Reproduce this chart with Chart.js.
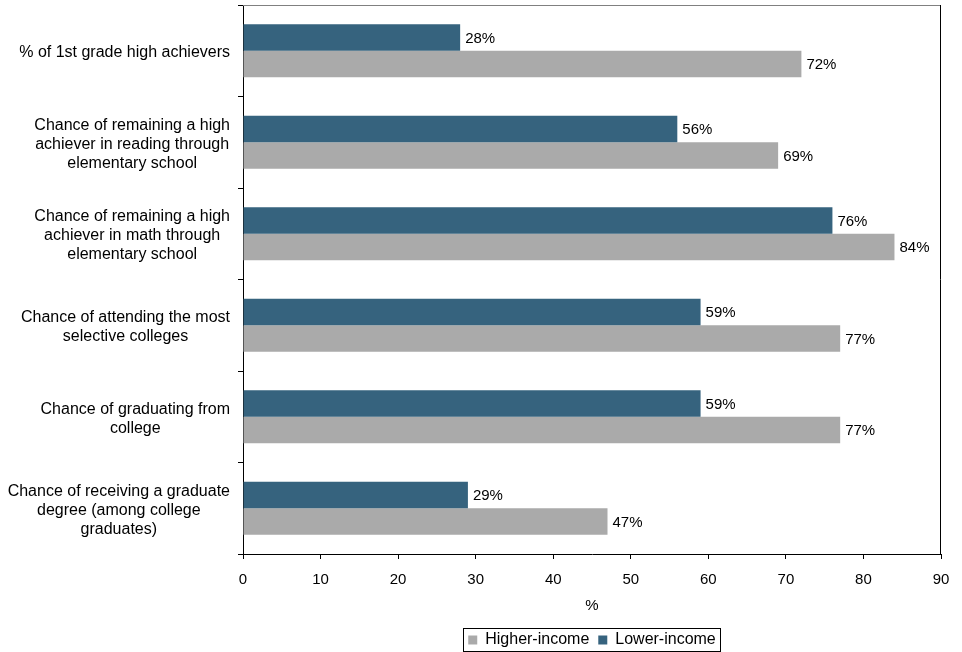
<!DOCTYPE html>
<html>
<head>
<meta charset="utf-8">
<script src="https://cdn.jsdelivr.net/npm/chart.js@4.4.0/dist/chart.umd.min.js"></script>
<style>
  html, body { margin: 0; padding: 0; background: #fff; }
  #wrap { width: 962px; height: 652px; }
</style>
</head>
<body>
<div id="wrap"><canvas id="achievers" width="962" height="652"></canvas></div>
<script>
const categories = [
  ['% of 1st grade high achievers'],
  ['Chance of remaining a high', 'achiever in reading through', 'elementary school'],
  ['Chance of remaining a high', 'achiever in math through', 'elementary school'],
  ['Chance of attending the most', 'selective colleges'],
  ['Chance of graduating from', 'college'],
  ['Chance of receiving a graduate', 'degree (among college', 'graduates)']
];
const lowerIncome = [28, 56, 76, 59, 59, 29];
const higherIncome = [72, 69, 84, 77, 77, 47];
const xTicks = [0, 10, 20, 30, 40, 50, 60, 70, 80, 90];

const BLUE = '#36637e';
const GREY = '#aaaaaa';
const FONT = 'Arial, "Liberation Sans", sans-serif';

Chart.defaults.font.family = FONT;
Chart.defaults.font.size = 15;
Chart.defaults.color = '#000';

// value labels at the end of each bar
const barLabels = {
  id: 'barLabels',
  afterDatasetsDraw(chart) {
    const ctx = chart.ctx;
    ctx.save();
    ctx.font = '15px ' + FONT;
    ctx.fillStyle = '#000';
    ctx.textAlign = 'left';
    ctx.textBaseline = 'middle';
    chart.data.datasets.forEach((ds, i) => {
      chart.getDatasetMeta(i).data.forEach((bar, j) => {
        ctx.fillText(ds.data[j] + '%', bar.x + 5, bar.y + 1);
      });
    });
    ctx.restore();
  }
};

// category names: each block centred on itself, blocks right-aligned to the axis
const categoryLabels = {
  id: 'categoryLabels',
  afterDraw(chart) {
    const { ctx } = chart;
    const y = chart.scales.y;
    const lh = 19;
    const right = y.right - 13;
    ctx.save();
    ctx.font = '16px ' + FONT;
    ctx.fillStyle = '#000';
    ctx.textAlign = 'center';
    ctx.textBaseline = 'middle';
    chart.data.labels.forEach((lines, i) => {
      const cy = y.getPixelForTick(i);
      const w = Math.max(...lines.map(s => ctx.measureText(s).width));
      const cx = right - w / 2;
      lines.forEach((s, k) => ctx.fillText(s, cx, cy + 2 + (k - (lines.length - 1) / 2) * lh));
    });
    ctx.restore();
  }
};

// top and right edges of the plot box, plus a frame round the legend
const frame = {
  id: 'frame',
  afterDraw(chart) {
    const { ctx, chartArea: a } = chart;
    ctx.save();
    ctx.lineWidth = 1;
    ctx.strokeStyle = '#808080';
    ctx.beginPath();
    ctx.moveTo(a.left, Math.round(a.top) + 0.5);
    ctx.lineTo(a.right, Math.round(a.top) + 0.5);
    ctx.stroke();
    ctx.strokeStyle = '#000';
    ctx.beginPath();
    ctx.moveTo(Math.round(a.right) - 0.5, a.top);
    ctx.lineTo(Math.round(a.right) - 0.5, a.bottom);
    ctx.stroke();

    const boxes = chart.legend.legendHitBoxes;
    if (boxes && boxes.length) {
      const l = Math.min(...boxes.map(b => b.left)) - 5;
      const r = Math.max(...boxes.map(b => b.left + b.width)) + 4;
      const t = Math.min(...boxes.map(b => b.top)) - 4;
      const bt = Math.max(...boxes.map(b => b.top + b.height)) + 3;
      ctx.strokeStyle = '#000';
      ctx.strokeRect(Math.round(l) + 0.5, Math.round(t) + 0.5, Math.round(r - l), Math.round(bt - t));
    }
    ctx.restore();
  }
};

new Chart(document.getElementById('achievers'), {
  type: 'bar',
  data: {
    labels: categories,
    datasets: [
      { label: 'Lower-income', data: lowerIncome, backgroundColor: BLUE },
      { label: 'Higher-income', data: higherIncome, backgroundColor: GREY }
    ]
  },
  options: {
    indexAxis: 'y',
    responsive: false,
    animation: false,
    layout: { padding: { top: 5, right: 21, bottom: -6, left: 0 } },
    datasets: { bar: { categoryPercentage: 0.58, barPercentage: 1 } },
    scales: {
      x: {
        min: 0,
        max: 90,
        afterBuildTicks(scale) { scale.ticks = xTicks.map(v => ({ value: v })); },
        grid: { drawOnChartArea: false, tickLength: 5, color: '#000' },
        border: { color: '#000', width: 1 },
        ticks: { padding: 12, maxRotation: 0 },
        title: { display: true, text: '%', padding: { top: -4, bottom: 8 } }
      },
      y: {
        afterFit(scale) {
          scale.width = 243;
          scale.paddingTop = 0;
          scale.paddingBottom = 0;
        },
        grid: { drawOnChartArea: false, offset: true, tickLength: 5, color: '#000' },
        border: { color: '#000', width: 1 },
        ticks: { display: false }
      }
    },
    plugins: {
      legend: {
        position: 'bottom',
        reverse: true,
        fullSize: false,
        labels: { boxWidth: 9, boxHeight: 9, padding: 9, font: { size: 16 } }
      },
      tooltip: { enabled: false }
    }
  },
  plugins: [barLabels, categoryLabels, frame]
});
</script>
</body>
</html>
